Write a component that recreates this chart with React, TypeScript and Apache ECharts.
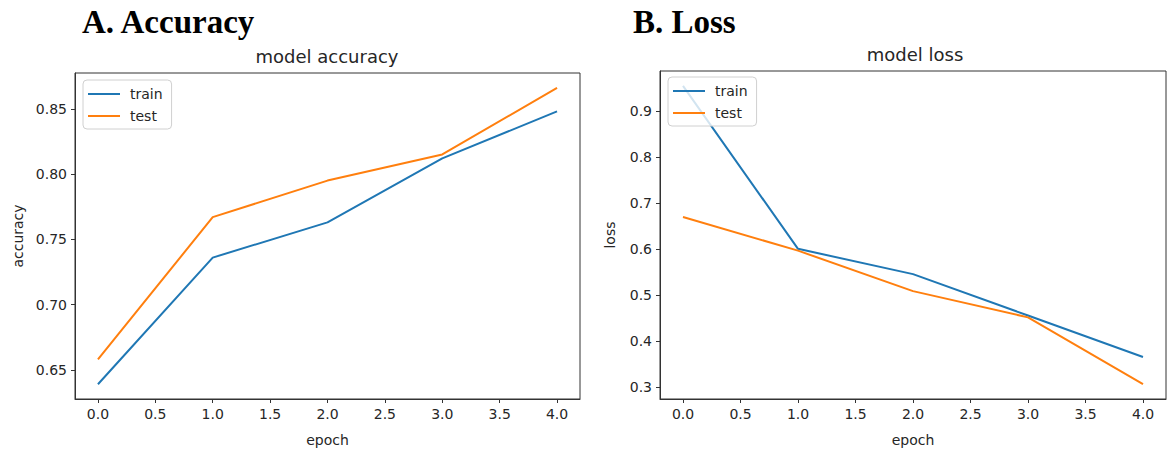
import React, { useEffect, useRef } from "react";
import * as echarts from "echarts";

const epochs = [0, 1, 2, 3, 4];
const accTrain = [0.639, 0.736, 0.763, 0.812, 0.848];
const accTest = [0.658, 0.767, 0.795, 0.815, 0.866];
const lossTrain = [0.955, 0.601, 0.546, 0.456, 0.366];
const lossTest = [0.67, 0.597, 0.509, 0.452, 0.307];
const xTicks = [0, 0.5, 1, 1.5, 2, 2.5, 3, 3.5, 4];
const accTicks = [0.65, 0.7, 0.75, 0.8, 0.85];
const lossTicks = [0.3, 0.4, 0.5, 0.6, 0.7, 0.8, 0.9];

const BLUE = "#1f77b4";
const ORANGE = "#ff7f0e";
const FONT = "DejaVu Sans";
const TXT = "#262626";
const AX = "#333333";

const pairs = (ys: number[]) => epochs.map((x, i) => [x, ys[i]]);

export default function App() {
  const ref = useRef<HTMLDivElement>(null);
  useEffect(() => {
    if (!ref.current) return;
    const chart = echarts.init(ref.current, null, { renderer: "svg" });
    const grids = [
      { left: 75, top: 73, width: 505, height: 330 },
      { left: 660, top: 71, width: 506, height: 331 },
    ];
    const xAxisBase = (gi: number) => ({
      type: "value",
      gridIndex: gi,
      min: -0.2,
      max: 4.2,
      name: "epoch",
      nameLocation: "middle",
      nameGap: 34,
      nameTextStyle: { fontFamily: FONT, fontSize: 14, color: TXT },
      axisLine: { onZero: false, lineStyle: { color: AX, width: 1 } },
      axisTick: { show: true, length: 4, customValues: xTicks, lineStyle: { color: AX } },
      axisLabel: {
        customValues: xTicks,
        formatter: (v: number) => v.toFixed(1),
        fontFamily: FONT,
        fontSize: 14,
        color: TXT,
        margin: 8,
      },
      splitLine: { show: false },
    });
    const yAxisBase = (gi: number, min: number, max: number, ticks: number[], dec: number, name: string, gap: number) => ({
      type: "value",
      gridIndex: gi,
      min,
      max,
      name,
      nameLocation: "middle",
      nameGap: gap,
      nameRotate: 90,
      nameTextStyle: { fontFamily: FONT, fontSize: 14, color: TXT },
      axisLine: { show: true, onZero: false, lineStyle: { color: AX, width: 1 } },
      axisTick: { show: true, length: 4, customValues: ticks, lineStyle: { color: AX } },
      axisLabel: {
        customValues: ticks,
        formatter: (v: number) => v.toFixed(dec),
        fontFamily: FONT,
        fontSize: 14,
        color: TXT,
        margin: 8,
      },
      splitLine: { show: false },
    });
    const legendBase = (left: number, top: number) => ({
      orient: "vertical",
      left,
      top,
      data: [
        { name: "train", itemStyle: { color: BLUE } },
        { name: "test", itemStyle: { color: ORANGE } },
      ],
      icon: "rect",
      itemWidth: 32,
      itemHeight: 2,
      itemGap: 8,
      padding: [7, 9, 6, 5],
      backgroundColor: "rgba(255,255,255,0.8)",
      borderColor: "#d0d0d0",
      borderWidth: 1,
      borderRadius: 4,
      selectedMode: false,
      textStyle: { fontFamily: FONT, fontSize: 14, color: TXT, padding: [0, 0, 0, 5], height: 14 },
    });
    const lineSeries = (name: string, color: string, data: number[][], gi: number) => ({
      type: "line",
      name,
      xAxisIndex: gi,
      yAxisIndex: gi,
      data,
      showSymbol: false,
      symbol: "none",
      lineStyle: { color, width: 2 },
      itemStyle: { color },
      z: 2,
    });
    chart.setOption({
      animation: false,
      backgroundColor: "#ffffff",
      grid: grids.map((g) => ({ ...g, show: true, borderColor: AX, borderWidth: 1, backgroundColor: "transparent" })),
      title: [
        {
          text: "model accuracy",
          left: 322,
          top: 42,
          textAlign: "center",
          textStyle: { fontFamily: FONT, fontSize: 18, fontWeight: "normal", color: TXT },
        },
        {
          text: "model loss",
          left: 910,
          top: 40,
          textAlign: "center",
          textStyle: { fontFamily: FONT, fontSize: 18, fontWeight: "normal", color: TXT },
        },
      ],
      legend: [legendBase(83, 80), legendBase(668, 77)],
      xAxis: [xAxisBase(0), xAxisBase(1)],
      yAxis: [
        yAxisBase(0, 0.6277, 0.8774, accTicks, 2, "accuracy", 50),
        yAxisBase(1, 0.2746, 0.9874, lossTicks, 1, "loss", 43),
      ],
      series: [
        lineSeries("train", BLUE, pairs(accTrain), 0),
        lineSeries("test", ORANGE, pairs(accTest), 0),
        lineSeries("train", BLUE, pairs(lossTrain), 1),
        lineSeries("test", ORANGE, pairs(lossTest), 1),
      ],
      graphic: [
        {
          type: "text",
          left: 82,
          top: 5,
          style: { text: "A. Accuracy", font: "bold 33px 'Liberation Serif'", fill: "#000" },
        },
        {
          type: "text",
          left: 633,
          top: 5,
          style: { text: "B. Loss", font: "bold 33px 'Liberation Serif'", fill: "#000" },
        },
      ],
    });
    return () => chart.dispose();
  }, []);
  return <div ref={ref} style={{ position: "fixed", left: 0, top: 0, width: 1167, height: 452 }} />;
}
